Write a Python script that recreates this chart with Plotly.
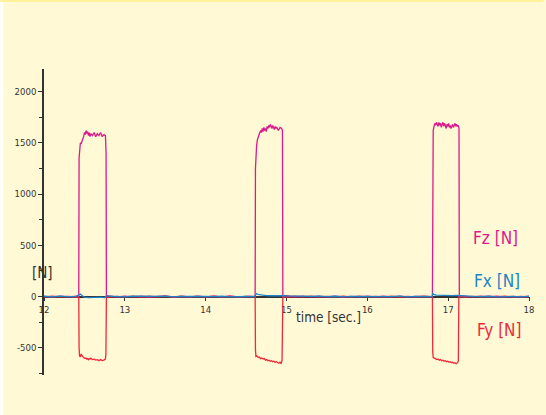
import plotly.graph_objects as go

# ---------------- data ----------------
rest_t = [12.00, 12.10, 12.20, 12.30, 12.40,
          12.80, 12.90, 13.00, 13.10, 13.20, 13.30, 13.40, 13.50, 13.60, 13.70,
          13.80, 13.90, 14.00, 14.10, 14.20, 14.30, 14.40, 14.50, 14.60,
          15.00, 15.10, 15.20, 15.30, 15.40, 15.50, 15.60, 15.70, 15.80, 15.90,
          16.00, 16.10, 16.20, 16.30, 16.40, 16.50, 16.60, 16.70, 16.80,
          17.20, 17.30, 17.40, 17.50, 17.60, 17.70, 17.80, 17.90, 18.00]
fz_rest = [2, -3, 4, -2, 3,
           6, -3, 5, -2, 3, -4, 2, 6, -3, 2, -2, 4, -3, 3, -2, 5, -3, 2, 0,
           8, -2, 4, -3, 3, -2, 5, -4, 2, -2, 4, -3, 3, -2, 5, -3, 2, -2, 0,
           5, -3, 4, -2, 3, -4, 2, -2, 3]
fy_rest = [-2, 3, -3, 2, -4,
           -5, 2, -3, 4, -2, 3, -3, 2, -4, 3, -2, 2, -3, 4, -2, 3, -3, 2, -1,
           -5, 3, -2, 4, -3, 2, -3, 3, -2, 4, -3, 2, -2, 3, -4, 2, -3, 3, 0,
           -4, 2, -3, 3, -2, 4, -3, 2, -2]
fx_rest = [3, -2, 4, -1, 2,
           5, 2, -2, 3, 1, -3, 2, 4, -2, 1, 3, -2, 2, -1, 3, -2, 2, 1, 0,
           6, 3, -2, 2, 4, -1, 3, -2, 2, 1, -2, 3, 2, -1, 4, -2, 2, 1, 0,
           5, 2, -1, 3, -2, 2, 1, -2, 2]

# Fz pulses
fz_p1_t = [12.430, 12.434, 12.440, 12.450, 12.460, 12.470, 12.480, 12.490, 12.500,
           12.510, 12.520, 12.530, 12.540, 12.550, 12.560, 12.570, 12.580, 12.600,
           12.620, 12.640, 12.660, 12.680, 12.700, 12.720, 12.740, 12.760, 12.768, 12.772]
fz_p1_v = [5, 1350, 1480, 1500, 1490, 1510, 1530, 1560, 1600,
           1580, 1620, 1590, 1610, 1570, 1600, 1560, 1590, 1570,
           1600, 1560, 1590, 1570, 1600, 1560, 1580, 1570, 1400, 10]
fz_p2_t = [14.612, 14.616, 14.622, 14.630, 14.640, 14.650, 14.660, 14.670, 14.680,
           14.690, 14.700, 14.710, 14.720, 14.730, 14.740, 14.750, 14.760, 14.770,
           14.780, 14.790, 14.800, 14.810, 14.820, 14.830, 14.840, 14.850, 14.860,
           14.870, 14.880, 14.900, 14.920, 14.940, 14.950, 14.955]
fz_p2_v = [5, 1250, 1400, 1470, 1530, 1560, 1580, 1600, 1620,
           1600, 1640, 1610, 1650, 1620, 1640, 1610, 1660, 1640,
           1670, 1650, 1680, 1660, 1640, 1670, 1650, 1630, 1660,
           1640, 1650, 1620, 1650, 1640, 1620, 10]
fz_p3_t = [16.805, 16.809, 16.815, 16.825, 16.835, 16.845, 16.855, 16.865, 16.875,
           16.885, 16.895, 16.905, 16.915, 16.925, 16.935, 16.945, 16.955, 16.965,
           16.975, 16.985, 16.995, 17.005, 17.015, 17.025, 17.035, 17.045, 17.055,
           17.065, 17.075, 17.085, 17.095, 17.105, 17.115, 17.125, 17.134, 17.138]
fz_p3_v = [5, 1550, 1620, 1660, 1690, 1670, 1700, 1680, 1660,
           1700, 1670, 1690, 1650, 1680, 1700, 1660, 1690, 1670,
           1640, 1680, 1660, 1690, 1650, 1670, 1640, 1660, 1680,
           1650, 1670, 1690, 1660, 1680, 1660, 1670, 1640, 10]

# Fy pulses
fy_p1_t = [12.430, 12.434, 12.440, 12.450, 12.460, 12.470, 12.480, 12.490, 12.500,
           12.510, 12.520, 12.530, 12.540, 12.550, 12.560, 12.570, 12.580, 12.600,
           12.620, 12.640, 12.660, 12.680, 12.700, 12.720, 12.740, 12.760, 12.766, 12.772]
fy_p1_v = [0, -500, -580, -585, -560, -575, -590, -595, -600,
           -605, -600, -610, -605, -615, -605, -610, -600, -615,
           -610, -620, -615, -625, -615, -625, -620, -610, -560, 0]
fy_p2_t = [14.612, 14.616, 14.622, 14.635, 14.650, 14.665, 14.680, 14.695, 14.710,
           14.725, 14.740, 14.755, 14.770, 14.785, 14.800, 14.815, 14.830, 14.845,
           14.860, 14.875, 14.890, 14.905, 14.920, 14.935, 14.945, 14.955]
fy_p2_v = [0, -520, -585, -580, -595, -590, -605, -600, -610,
           -605, -620, -615, -625, -620, -630, -625, -635, -630,
           -640, -635, -645, -650, -640, -655, -620, 0]
fy_p3_t = [16.805, 16.809, 16.815, 16.830, 16.845, 16.860, 16.875, 16.890, 16.905,
           16.920, 16.935, 16.950, 16.965, 16.980, 16.995, 17.010, 17.025, 17.040,
           17.055, 17.070, 17.085, 17.100, 17.115, 17.126, 17.132]
fy_p3_v = [0, -540, -595, -600, -605, -615, -610, -620, -615,
           -625, -620, -630, -625, -635, -630, -640, -635, -645,
           -640, -650, -645, -655, -645, -630, 0]

# Fx pulses
fx_p1_t = [12.434, 12.450, 12.470, 12.500, 12.550, 12.600, 12.650, 12.700, 12.750, 12.772]
fx_p1_v = [15, 25, 10, -5, -10, -8, -12, -6, -10, 5]
fx_p2_t = [14.616, 14.630, 14.660, 14.700, 14.750, 14.800, 14.850, 14.900, 14.950]
fx_p2_v = [20, 28, 18, 12, 10, 8, 10, 6, 8]
fx_p3_t = [16.809, 16.820, 16.850, 16.900, 16.950, 17.000, 17.050, 17.100, 17.138]
fx_p3_v = [30, 22, 15, 12, 10, 12, 9, 11, 8]

x_ticks = [12, 13, 14, 15, 16, 17, 18]
y_ticks = [-500, 0, 500, 1000, 1500, 2000]

# ---------------- helpers ----------------
def merge(*pairs):
    pts = []
    for ts, vs in pairs:
        pts.extend(zip(ts, vs))
    pts.sort(key=lambda p: p[0])
    return [p[0] for p in pts], [p[1] for p in pts]

fz_t, fz_v = merge((rest_t, fz_rest), (fz_p1_t, fz_p1_v), (fz_p2_t, fz_p2_v), (fz_p3_t, fz_p3_v))
fy_t, fy_v = merge((rest_t, fy_rest), (fy_p1_t, fy_p1_v), (fy_p2_t, fy_p2_v), (fy_p3_t, fy_p3_v))
fx_t, fx_v = merge((rest_t, fx_rest), (fx_p1_t, fx_p1_v), (fx_p2_t, fx_p2_v), (fx_p3_t, fx_p3_v))

C_FZ = "#DB1A8C"
C_FY = "#EE2A3A"
C_FX = "#1D84C6"
BG = "#FFF9D6"
AX = "#333333"
FONT = "DejaVu Sans Condensed, Liberation Sans Narrow, sans-serif"

Y_MIN, Y_MAX = -765, 2220

fig = go.Figure()
fig.add_trace(go.Scatter(x=fy_t, y=fy_v, mode="lines", line=dict(color=C_FY, width=1.3), name="Fy"))
fig.add_trace(go.Scatter(x=fz_t, y=fz_v, mode="lines", line=dict(color=C_FZ, width=1.3), name="Fz"))
fig.add_trace(go.Scatter(x=fx_t, y=fx_v, mode="lines", line=dict(color=C_FX, width=1.3), name="Fx"))

fig.update_layout(
    width=546, height=415,
    margin=dict(l=44, r=14, t=69, b=40),
    paper_bgcolor=BG, plot_bgcolor=BG,
    showlegend=False,
    font=dict(family=FONT, color=AX, size=9),
    xaxis=dict(
        range=[12, 18], tickvals=x_ticks, ticktext=[str(v) for v in x_ticks],
        showline=True, linecolor=AX, linewidth=1.5,
        ticks="outside", ticklen=4, tickcolor=AX, tickwidth=1,
        showgrid=False, zeroline=False, layer="below traces",
        anchor="free", position=(0 - Y_MIN) / (Y_MAX - Y_MIN),
        tickfont=dict(size=9.5, family=FONT, color=AX),
    ),
    yaxis=dict(
        range=[Y_MIN, Y_MAX], tickvals=y_ticks, ticktext=[str(v) for v in y_ticks],
        showline=True, linecolor=AX, linewidth=1.5,
        ticks="outside", ticklen=4, tickcolor=AX, tickwidth=1,
        minor=dict(dtick=250, tick0=0, ticks="outside", ticklen=3, tickcolor=AX, tickwidth=1),
        showgrid=False, zeroline=False,
        tickfont=dict(size=9.5, family=FONT, color=AX),
    ),
    shapes=[
        dict(type="rect", xref="paper", yref="paper", x0=-0.0902, x1=1.03, y0=1.219, y1=1.2255,
             fillcolor="#FFF29A", line=dict(width=0), layer="below"),
        dict(type="rect", xref="paper", yref="paper", x0=-0.0902, x1=-0.0841, y0=-0.131, y1=1.219,
             fillcolor="#FFFFFF", line=dict(width=0), layer="below"),
    ],
    annotations=[
        dict(x=17.584, y=572, xref="x", yref="y", text="Fz [N]", showarrow=False,
             font=dict(size=17, color=C_FZ, family=FONT)),
        dict(x=17.609, y=152, xref="x", yref="y", text="Fx [N]", showarrow=False,
             font=dict(size=17, color=C_FX, family=FONT)),
        dict(x=17.633, y=-326, xref="x", yref="y", text="Fy [N]", showarrow=False,
             font=dict(size=17, color=C_FY, family=FONT)),
        dict(x=15.52, y=-195, xref="x", yref="y", text="time [sec.]", showarrow=False,
             font=dict(size=13.5, color=AX, family=FONT)),
        dict(x=-0.029, y=230, xref="paper", yref="y", text="[N]", showarrow=False,
             font=dict(size=15, color=AX, family=FONT)),
    ],
)

fig.write_html("out.html", config={"displayModeBar": False},
               post_script="document.body.style.margin='0px';")
